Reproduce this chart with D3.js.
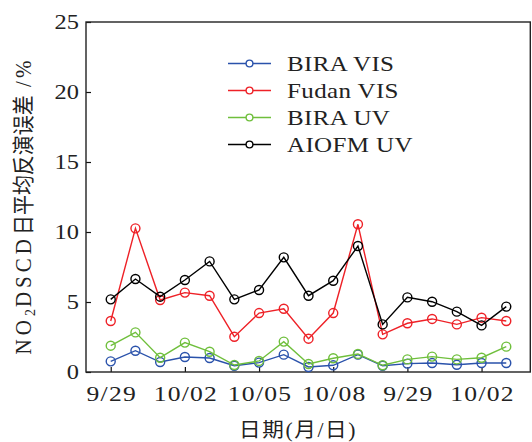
<!DOCTYPE html>
<html>
<head>
<meta charset="utf-8">
<script src="https://cdn.jsdelivr.net/npm/d3@7/dist/d3.min.js"></script>
<style>
  html, body { margin: 0; padding: 0; background: #fff; }
  svg { display: block; }
</style>
</head>
<body>
<svg id="chart" width="532" height="442"></svg>
<script>
// Daily mean NO2 DSCD retrieval error (%) for four retrievals, 17 days
const dayIndex = d3.range(17);
const tickIndex = [0, 3, 6, 9, 12, 15];
const tickLabels = ["9/29", "10/02", "10/05", "10/08", "9/29", "10/02"];
const yTicks = [0, 5, 10, 15, 20, 25];

const biraVis  = [0.76, 1.52, 0.71, 1.07, 1.00, 0.45, 0.67, 1.24, 0.36, 0.48, 1.24, 0.45, 0.60, 0.64, 0.52, 0.64, 0.64];
const fudanVis = [3.64, 10.26, 5.14, 5.67, 5.45, 2.52, 4.21, 4.52, 2.38, 4.21, 10.55, 2.69, 3.48, 3.79, 3.40, 3.88, 3.64];
const biraUv   = [1.88, 2.83, 1.02, 2.10, 1.45, 0.50, 0.79, 2.17, 0.57, 0.98, 1.29, 0.48, 0.90, 1.10, 0.90, 1.02, 1.81];
const aiofmUv  = [5.19, 6.64, 5.38, 6.57, 7.90, 5.19, 5.86, 8.19, 5.45, 6.52, 9.00, 3.40, 5.33, 5.02, 4.31, 3.33, 4.67];

const seriesNames = ["BIRA VIS", "Fudan VIS", "BIRA UV", "AIOFM UV"];
const seriesValues = [biraVis, fudanVis, biraUv, aiofmUv];
const seriesColors = ["#2a52ab", "#ee2127", "#6fbf3c", "#000000"];

const svg = d3.select("#chart");
const plotLeft = 86, plotRight = 531, plotTop = 22, plotBottom = 372;
const latin = "'Liberation Serif', 'DejaVu Serif', serif";
const cjk = "'Liberation Serif', 'Noto Sans CJK SC', serif";
const widen = 1.22; // wide serif glyphs

const x = d3.scaleLinear().domain([-1, 17]).range([plotLeft, plotRight]);
const y = d3.scaleLinear().domain([0, 25]).range([plotBottom, plotTop]);

// Inward ticks on the left and bottom axes
svg.append("g")
  .attr("transform", `translate(${plotLeft},0)`)
  .call(d3.axisLeft(y).tickValues(yTicks).tickSizeInner(-5).tickSizeOuter(0).tickFormat(""))
  .call(g => g.select(".domain").remove())
  .selectAll("line").attr("stroke", "#111").attr("stroke-width", 1.2);

svg.append("g")
  .attr("transform", `translate(0,${plotBottom})`)
  .call(d3.axisBottom(x).tickValues(tickIndex).tickSizeInner(-5).tickSizeOuter(0).tickFormat(""))
  .call(g => g.select(".domain").remove())
  .selectAll("line").attr("stroke", "#111").attr("stroke-width", 1.2);

// Frame
svg.append("rect")
  .attr("x", plotLeft).attr("y", plotTop)
  .attr("width", plotRight - plotLeft - 0.7).attr("height", plotBottom - plotTop)
  .attr("fill", "none").attr("stroke", "#222").attr("stroke-width", 1.4);

// Y tick labels
svg.append("g").selectAll("text").data(yTicks).join("text")
  .attr("transform", d => `translate(79,${y(d)}) scale(${widen},1)`)
  .attr("dy", "0.34em")
  .attr("text-anchor", "end")
  .attr("font-family", latin).attr("font-size", 20)
  .attr("fill", "#222")
  .text(d => d);

// X tick labels
svg.append("g").selectAll("text").data(tickIndex).join("text")
  .attr("transform", d => `translate(${x(d) + 1},401) scale(${widen},1)`)
  .attr("text-anchor", "middle")
  .attr("font-family", latin).attr("font-size", 21)
  .attr("letter-spacing", 1)
  .attr("fill", "#222")
  .text((d, i) => tickLabels[i]);

// Axis titles
svg.append("text")
  .attr("transform", `translate(298,437) scale(1.08,1)`)
  .attr("text-anchor", "middle")
  .attr("font-family", cjk).attr("font-size", 20)
  .attr("letter-spacing", 1.5)
  .attr("fill", "#222")
  .text("日期(月/日)");

const yTitle = svg.append("text")
  .attr("transform", "translate(31,206) rotate(-90) scale(1,1.1)")
  .attr("text-anchor", "middle")
  .attr("font-family", cjk).attr("font-size", 21)
  .attr("fill", "#222");
yTitle.append("tspan").attr("letter-spacing", 4).text("NO");
yTitle.append("tspan").attr("font-size", 14).attr("dy", 4).attr("letter-spacing", 2).text("2");
yTitle.append("tspan").attr("dy", -4).attr("letter-spacing", 4).text("DSCD");
yTitle.append("tspan").attr("font-size", 20).attr("letter-spacing", 0).text("日平均反演误差");
yTitle.append("tspan").attr("letter-spacing", 3).text(" /%");

// Series lines and open circle markers
const line = d3.line().x((d, i) => x(dayIndex[i])).y(d => y(d));
seriesValues.forEach((vals, s) => {
  const g = svg.append("g");
  g.append("path")
    .datum(vals)
    .attr("d", line)
    .attr("fill", "none")
    .attr("stroke", seriesColors[s])
    .attr("stroke-width", 1.4);
  g.selectAll("circle").data(vals).join("circle")
    .attr("cx", (d, i) => x(dayIndex[i]))
    .attr("cy", d => y(d))
    .attr("r", 4.5)
    .attr("fill", "none")
    .attr("stroke", seriesColors[s])
    .attr("stroke-width", 1.4);
});

// Legend
const legend = svg.append("g");
seriesNames.forEach((name, s) => {
  const cy = 63.5 + s * 27;
  legend.append("line")
    .attr("x1", 228).attr("x2", 271).attr("y1", cy).attr("y2", cy)
    .attr("stroke", seriesColors[s]).attr("stroke-width", 1.4);
  legend.append("circle")
    .attr("cx", 249.5).attr("cy", cy).attr("r", 3.4)
    .attr("fill", "#fff")
    .attr("stroke", seriesColors[s]).attr("stroke-width", 1.4);
  legend.append("text")
    .attr("transform", `translate(287,${cy + 7}) scale(${widen},1)`)
    .attr("font-family", latin).attr("font-size", 20.5)
    .attr("letter-spacing", 0.3)
    .attr("fill", "#222")
    .text(name);
});
</script>
</body>
</html>
